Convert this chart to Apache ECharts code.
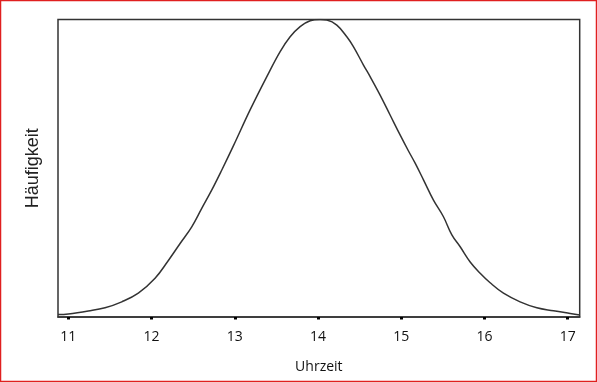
<!DOCTYPE html>
<html><head><meta charset="utf-8">
<script src="https://cdn.jsdelivr.net/npm/echarts@6/dist/echarts.min.js"></script>
<style>html,body{margin:0;padding:0;background:#fff}#c{width:597px;height:383px}</style>
</head><body><div id="c"></div>
<script>
const xValues = [10.876, 11.0, 11.24, 11.441, 11.642, 11.841, 12.042, 12.202, 12.343, 12.483, 12.603, 12.724, 12.844, 12.983, 13.184, 13.385, 13.545, 13.665, 13.785, 13.906, 14.026, 14.106, 14.226, 14.346, 14.425, 14.546, 14.626, 14.746, 14.866, 14.986, 15.087, 15.167, 15.267, 15.387, 15.507, 15.608, 15.708, 15.828, 15.948, 16.068, 16.228, 16.428, 16.629, 16.829, 17.03, 17.144];
const yValues = [0.008, 0.010, 0.020, 0.031, 0.051, 0.080, 0.130, 0.190, 0.247, 0.303, 0.365, 0.427, 0.494, 0.575, 0.696, 0.808, 0.892, 0.942, 0.976, 0.996, 1.0, 0.998, 0.981, 0.942, 0.909, 0.847, 0.808, 0.746, 0.679, 0.612, 0.558, 0.517, 0.461, 0.393, 0.337, 0.276, 0.236, 0.185, 0.147, 0.115, 0.080, 0.051, 0.031, 0.021, 0.012, 0.007];
const tickLabels = [11, 12, 13, 14, 15, 16, 17];
const xTitle = 'Uhrzeit';
const yTitle = 'Häufigkeit';

const chart = echarts.init(document.getElementById('c'), null, {renderer: 'canvas'});
chart.setOption({
  animation: false,
  grid: {left: 58, top: 19.5, right: 17.3, bottom: 66, show: true, borderColor: '#333', borderWidth: 1.5, backgroundColor: '#fff'},
  xAxis: {
    type: 'value', min: 10.876, max: 17.144,
    name: xTitle, nameLocation: 'middle', nameGap: 43,
    nameTextStyle: {fontFamily: 'Open Sans', fontSize: 14, color: '#111'},
    axisLine: {show: true, onZero: false, lineStyle: {color: '#333', width: 1.5}},
    axisTick: {show: true, customValues: tickLabels, length: 2.5, lineStyle: {color: '#000', width: 3}},
    axisLabel: {customValues: tickLabels, margin: 13, fontFamily: 'Open Sans', fontSize: 14, color: '#111'},
    splitLine: {show: false}
  },
  yAxis: {
    type: 'value', min: 0, max: 1,
    name: yTitle, nameLocation: 'middle', nameGap: 16, nameRotate: 90,
    nameTextStyle: {fontFamily: 'Liberation Sans', fontSize: 18, color: '#222'},
    axisLine: {show: false}, axisTick: {show: false}, axisLabel: {show: false}, splitLine: {show: false}
  },
  series: [{
    type: 'line', smooth: 0.4, showSymbol: false,
    data: xValues.map((x, i) => [x, yValues[i]]),
    lineStyle: {color: '#333', width: 1.5}
  }],
  graphic: [{
    type: 'rect', shape: {x: 0.5, y: 0.5, width: 596, height: 381}, silent: true,
    style: {fill: 'none', stroke: '#e02020', lineWidth: 1.5}
  }]
});
</script></body></html>
